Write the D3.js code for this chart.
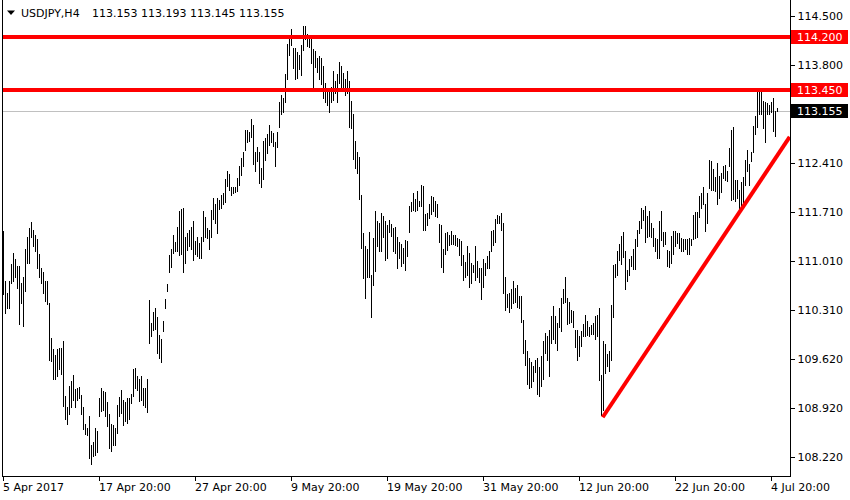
<!DOCTYPE html>
<html>
<head>
<meta charset="utf-8">
<script src="https://cdn.jsdelivr.net/npm/d3@7"></script>
<style>
  html, body { margin: 0; padding: 0; background: #fff; }
  svg { display: block; }
  text { font-family: "DejaVu Sans", sans-serif; font-size: 11px; }
</style>
</head>
<body>
<svg id="chart" width="850" height="500"></svg>
<script>
// ---- data ----
const symbol = "USDJPY,H4";
const lastOHLC = [113.153, 113.193, 113.145, 113.155];

const highs = [
111.44,110.73,110.56,110.73,110.97,111.13,111.04,110.94,110.94,110.70,
110.78,111.18,111.35,111.49,111.57,111.45,111.39,111.32,111.11,110.92,
110.85,110.73,110.73,110.41,109.92,109.76,109.68,109.76,109.78,109.78,
109.87,109.09,108.93,109.23,109.31,109.39,109.19,109.21,109.22,109.11,
108.93,108.69,108.64,108.81,108.39,108.44,108.64,108.59,109.06,109.21,
109.16,109.15,109.00,108.83,108.69,108.68,108.63,108.96,109.08,109.18,
109.04,109.00,109.06,109.07,109.12,109.47,109.49,109.38,109.33,109.38,
109.21,109.20,109.33,110.46,110.13,110.29,110.35,110.21,109.96,109.91,
110.16,110.47,110.68,111.10,111.18,111.38,111.29,111.50,111.72,111.75,
111.77,111.35,111.41,111.45,111.50,111.58,111.30,111.35,111.27,111.36,
111.72,111.64,111.49,111.46,111.74,111.91,111.82,111.91,111.88,111.95,
111.98,112.18,112.29,112.25,112.06,112.06,112.07,112.19,112.37,112.48,
112.57,112.88,112.88,112.85,113.03,112.95,112.56,112.64,112.57,112.34,
112.72,112.77,112.82,112.95,112.86,112.83,112.70,112.85,113.28,113.38,
113.34,113.68,114.10,114.23,114.31,114.04,114.05,113.99,113.95,114.09,
114.36,114.36,114.25,114.22,114.23,114.03,114.00,113.90,113.93,113.90,
113.79,113.55,113.47,113.43,113.49,113.72,113.57,113.67,113.84,113.79,
113.69,113.60,113.72,113.57,113.29,113.11,112.72,112.57,112.50,111.95,
111.41,111.22,111.18,111.42,110.82,111.34,111.73,111.58,111.55,111.69,
111.65,111.58,111.53,111.60,111.54,111.49,111.50,111.35,111.29,111.25,
111.20,111.31,111.30,111.79,111.86,111.98,111.90,112.01,111.87,112.10,
112.08,111.68,111.69,111.83,111.94,111.93,111.87,111.83,111.54,111.53,
111.19,111.41,111.43,111.38,111.44,111.39,111.38,111.34,111.32,111.30,
111.10,111.00,111.22,111.13,110.98,110.96,111.22,111.01,110.91,110.91,
111.04,110.99,111.08,111.16,111.44,111.45,111.61,111.67,111.65,111.69,
111.56,110.79,110.55,110.56,110.61,110.73,110.63,110.67,110.51,110.51,
110.17,109.89,109.73,109.63,109.58,109.52,109.60,109.63,109.51,109.66,
109.88,109.99,109.95,110.03,110.23,110.37,110.23,110.13,110.35,110.48,
110.61,110.79,110.49,110.43,110.32,110.30,110.03,110.03,109.95,110.02,
110.11,110.25,110.16,110.08,110.10,110.13,110.23,110.25,110.34,109.39,
109.87,109.83,109.69,109.73,110.39,110.96,110.97,111.15,111.25,111.37,
111.42,111.15,110.89,111.04,111.08,111.19,111.32,111.46,111.58,111.77,
111.74,111.79,111.65,111.73,111.55,111.48,111.34,111.32,111.58,111.73,
111.43,111.42,111.17,111.16,111.37,111.44,111.44,111.41,111.41,111.34,
111.32,111.32,111.32,111.34,111.32,111.67,111.71,111.71,111.94,111.98,
112.07,111.82,111.98,112.45,112.44,112.32,112.21,112.41,112.22,112.27,
112.36,112.38,112.29,112.62,112.88,112.92,112.17,112.17,112.02,112.14,
112.21,112.45,112.59,112.40,112.57,112.93,113.07,113.42,113.42,113.42,
113.29,113.28,113.26,113.23,113.28,113.33,113.15,113.193
];

const lows = [
110.55,110.28,110.35,110.35,110.70,110.73,110.78,110.63,110.11,110.41,
110.09,110.59,110.99,110.99,111.36,111.22,111.16,110.92,110.79,110.70,
110.56,110.44,110.40,109.61,109.59,109.33,109.33,109.38,109.47,109.40,
108.95,108.77,108.70,108.83,108.93,109.04,108.94,109.04,109.07,108.83,
108.62,108.55,108.54,108.21,108.12,108.24,108.25,108.30,108.81,108.88,
108.90,108.81,108.66,108.35,108.31,108.39,108.40,108.56,108.81,108.85,
108.68,108.73,108.71,108.76,108.99,109.09,109.21,109.18,109.02,109.04,
108.96,108.93,108.87,109.84,109.94,110.03,110.04,109.70,109.64,109.58,
110.02,110.34,110.58,110.86,110.93,111.13,111.15,111.15,111.10,111.12,
110.85,110.98,111.17,111.22,111.18,111.03,111.11,111.08,111.05,111.06,
111.30,111.35,111.34,111.19,111.36,111.61,111.56,111.41,111.75,111.77,
111.83,111.86,112.08,112.02,111.95,111.98,111.99,112.01,112.10,112.24,
112.37,112.60,112.71,112.72,112.78,112.40,112.29,112.44,112.13,112.07,
112.18,112.45,112.55,112.66,112.71,112.65,112.37,112.64,112.92,113.10,
113.14,113.27,113.61,113.94,114.09,113.76,113.60,113.62,113.74,113.66,
114.02,114.17,114.07,114.06,113.83,113.47,113.78,113.71,113.61,113.53,
113.33,113.27,113.24,113.14,113.27,113.30,113.40,113.28,113.55,113.48,
113.46,113.38,113.41,112.92,112.91,112.47,112.34,112.26,111.90,111.20,
110.77,110.49,110.78,110.78,110.22,110.67,110.87,111.23,111.16,111.15,
111.35,111.03,111.05,111.42,111.37,111.16,111.13,110.91,111.05,110.94,
110.98,110.88,111.08,111.43,111.72,111.74,111.72,111.74,111.79,111.79,
111.45,111.45,111.53,111.63,111.68,111.72,111.65,111.64,111.29,110.93,
110.86,111.12,111.17,111.24,111.26,111.25,111.24,111.22,111.10,110.96,
110.74,110.79,110.82,110.65,110.70,110.86,110.75,110.78,110.72,110.47,
110.65,110.81,110.92,110.91,111.16,111.24,111.29,111.55,111.55,111.46,
110.56,110.32,110.36,110.29,110.35,110.41,110.43,110.36,110.35,110.14,
109.71,109.53,109.27,109.21,109.22,109.31,109.44,109.12,109.09,109.23,
109.33,109.71,109.60,109.37,109.84,109.91,109.84,109.75,110.07,110.02,
110.42,110.43,110.11,110.13,110.14,110.08,109.79,109.60,109.66,109.80,
109.94,109.94,109.96,109.94,109.97,109.97,109.91,109.94,109.32,108.82,
108.89,109.42,109.52,109.45,109.60,110.21,110.79,110.82,111.03,110.97,
111.07,110.62,110.73,110.81,110.94,110.90,110.90,111.23,111.41,111.49,
111.60,111.29,111.36,111.37,111.35,111.23,111.16,111.05,111.06,111.31,
111.22,111.26,110.94,110.93,110.99,111.12,111.22,111.27,111.20,111.15,
111.15,111.19,111.12,111.11,111.24,111.32,111.34,111.36,111.64,111.77,
111.83,111.44,111.56,112.05,112.02,112.02,112.01,111.82,111.91,112.00,
112.20,112.17,112.15,112.37,111.88,111.89,111.87,111.91,111.75,111.81,
111.84,112.10,112.29,112.10,112.43,112.56,112.82,112.92,113.11,113.11,
112.91,112.71,113.11,113.10,113.14,112.86,112.79,113.145
];

const yTickValues = [114.500, 113.800, 112.410, 111.710, 111.010, 110.310, 109.620, 108.920, 108.220];
const xTickIndex  = [0, 48, 96, 144, 192, 240, 288, 336, 384];
const xTickLabels = ["5 Apr 2017", "17 Apr 20:00", "27 Apr 20:00", "9 May 20:00", "19 May 20:00",
                     "31 May 20:00", "12 Jun 20:00", "22 Jun 20:00", "4 Jul 20:00"];
const levelPrices = [114.200, 113.450];
const currentPrice = 113.155;
const trendIdx   = [299.6, 393.1];
const trendPrice = [108.79, 112.78];

// ---- layout ----
const plotLeft = 2.5, plotRight = 790.5, plotTop = 0, plotBottom = 476.5;
const n = Math.min(highs.length, lows.length);

const svg = d3.select("#chart");
const x = d3.scaleLinear().domain([0, 387]).range([3.5, 777.5]);
const y = d3.scaleLinear().domain([108.22, 114.5]).range([457.3, 16]);

svg.append("defs").append("clipPath").attr("id", "plotClip")
  .append("rect").attr("x", plotLeft).attr("y", plotTop)
  .attr("width", plotRight - plotLeft).attr("height", plotBottom - plotTop);

const plot = svg.append("g").attr("clip-path", "url(#plotClip)");

// current price gray line
plot.append("line")
  .attr("x1", plotLeft).attr("x2", plotRight)
  .attr("y1", Math.round(y(currentPrice)) + 0.5).attr("y2", Math.round(y(currentPrice)) + 0.5)
  .attr("stroke", "#c0c0c0").attr("stroke-width", 1).attr("shape-rendering", "crispEdges");

// bars
const barData = d3.range(n).map(i => ({ i, h: highs[i], l: lows[i] }));
plot.append("g").selectAll("line").data(barData).join("line")
  .attr("x1", d => x(d.i)).attr("x2", d => x(d.i))
  .attr("y1", d => Math.round(y(d.h))).attr("y2", d => Math.round(y(d.l)) + 1)
  .attr("stroke", "#000").attr("stroke-width", 1).attr("shape-rendering", "crispEdges");

// horizontal levels
plot.append("g").selectAll("line").data(levelPrices).join("line")
  .attr("x1", plotLeft).attr("x2", plotRight)
  .attr("y1", d => y(d)).attr("y2", d => y(d))
  .attr("stroke", "#ff0000").attr("stroke-width", 4).attr("shape-rendering", "crispEdges");

// trend line
const trendPts = trendIdx.map((t, k) => [t, trendPrice[k]]);
plot.append("path")
  .attr("d", d3.line().x(d => x(d[0])).y(d => y(d[1]))(trendPts))
  .attr("fill", "none").attr("stroke", "#ff0000").attr("stroke-width", 4);

// frame
svg.append("path")
  .attr("d", `M${plotLeft},${plotTop}V${plotBottom}H${plotRight}V${plotTop}`)
  .attr("fill", "none").attr("stroke", "#000").attr("stroke-width", 1)
  .attr("shape-rendering", "crispEdges");

// y axis (right)
const yAxis = svg.append("g").attr("transform", `translate(${plotRight},0)`)
  .call(d3.axisRight(y).tickValues(yTickValues).tickSize(4).tickPadding(3).tickFormat(d3.format(".3f")));
yAxis.select(".domain").remove();
yAxis.selectAll("text").attr("fill", "#000").style("font-family", "DejaVu Sans").style("font-size", "11px");
yAxis.selectAll("line").attr("stroke", "#000").attr("shape-rendering", "crispEdges");

// x axis (bottom)
const xAxis = svg.append("g").attr("transform", `translate(0,${plotBottom})`)
  .call(d3.axisBottom(x).tickValues(xTickIndex).tickSize(4)
    .tickFormat((d, k) => xTickLabels[k]));
xAxis.select(".domain").remove();
xAxis.selectAll("line").attr("stroke", "#000").attr("transform", "translate(-1,0)").attr("shape-rendering", "crispEdges");
xAxis.selectAll("text").attr("fill", "#000").attr("text-anchor", "start")
  .attr("x", -1).attr("y", 7).attr("dy", "0.71em")
  .style("font-family", "DejaVu Sans").style("font-size", "11px");

// price label boxes
const boxes = [
  { p: levelPrices[0], bg: "#ff0000" },
  { p: levelPrices[1], bg: "#ff0000" },
  { p: currentPrice, bg: "#000000" }
];
const bg = svg.append("g");
boxes.forEach(b => {
  const cy = y(b.p);
  bg.append("rect").attr("x", 791).attr("y", Math.round(cy) - 7).attr("width", 57).attr("height", 14)
    .attr("fill", b.bg).attr("shape-rendering", "crispEdges");
  bg.append("text").attr("x", 797).attr("y", Math.round(cy) + 4)
    .attr("fill", "#fff").text(d3.format(".3f")(b.p));
});

// header
svg.append("path").attr("d", "M7,10.5L15,10.5L11,15Z").attr("fill", "#000");
svg.append("text").attr("x", 21).attr("y", 17).attr("fill", "#000").text(symbol);
svg.append("text").attr("x", 92).attr("y", 17).attr("fill", "#000")
  .text(lastOHLC.map(d3.format(".3f")).join(" "));
</script>
</body>
</html>
